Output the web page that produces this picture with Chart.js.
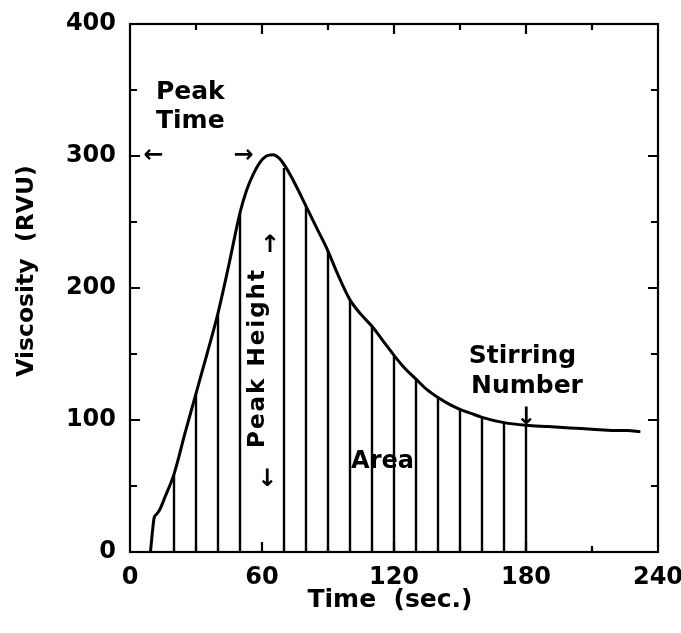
<!DOCTYPE html>
<html><head><meta charset="utf-8">
<script src="https://cdn.jsdelivr.net/npm/chart.js@4.4.1/dist/chart.umd.min.js"></script>
<style>html,body{margin:0;padding:0;background:#fff}</style>
</head><body>
<canvas id="c" width="681" height="633"></canvas>
<script>
// ---- data ----
const curveTime = [9.3, 10.3, 11, 12, 13.5, 16, 20, 25, 30, 35, 40, 45, 50, 53, 56, 59, 62, 65, 68, 71, 75, 80, 85, 90, 94, 100, 105, 110, 115, 120, 125, 130, 135, 140, 145, 150, 155, 160, 170, 180, 190, 200, 210, 220, 226, 232];
const curveVisc = [0, 17, 26, 28.5, 32, 42, 59, 90, 120, 150, 181, 218, 257, 274, 286, 295, 300, 301, 298, 291, 279, 262, 245, 228, 212, 191, 180, 171, 160, 149, 139, 131, 123, 117, 112, 108, 105, 102, 98, 96, 95, 94, 93, 92, 92, 91];
const hatchTime = [20, 30, 40, 50, 70, 80, 90, 100, 110, 120, 130, 140, 150, 160, 170, 180];
const hatchVisc = [59, 120, 181, 257, 291, 262, 228, 191, 171, 149, 131, 117, 108, 102, 98, 96];
const xTickLabels = [0, 60, 120, 180, 240];
const yTickLabels = [0, 100, 200, 300, 400];
const xTitle = 'Time  (sec.)';
const yTitle = 'Viscosity  (RVU)';

const FONT = '"DejaVu Sans", sans-serif';

const curveData = curveTime.map((t, i) => ({x: t, y: curveVisc[i]}));
const hatchData = [];
hatchTime.forEach((t, i) => { hatchData.push({x: t, y: 0}, {x: t, y: hatchVisc[i]}, {x: t, y: null}); });

// annotation texts, placed in data coordinates
const notes = [
  {text: 'Peak', x: 11.8, y: 343, size: 25, align: 'left'},
  {text: 'Time', x: 11.8, y: 321, size: 25, align: 'left'},
  {text: '←', x: 10.7, y: 300, size: 24, align: 'center', base: 'middle'},
  {text: '→', x: 51.6, y: 300, size: 24, align: 'center', base: 'middle'},
  {text: 'Peak Height', x: 61, y: 147, size: 23, align: 'center', rot: true, spacing: 2},
  {text: '↑', x: 63.6, y: 232, size: 24, align: 'center', base: 'middle'},
  {text: '↓', x: 62.3, y: 55, size: 24, align: 'center', base: 'middle'},
  {text: 'Area', x: 100.5, y: 64, size: 24, align: 'left'},
  {text: 'Stirring', x: 154, y: 143, size: 25, align: 'left'},
  {text: 'Number', x: 155, y: 120.6, size: 25, align: 'left'},
  {text: '↓', x: 180, y: 102, size: 24, align: 'center', base: 'middle'}
];

const framePlugin = {
  id: 'frame',
  afterDatasetsDraw(chart) {
    const {ctx, chartArea: a, scales: {x, y}} = chart;
    ctx.save();
    ctx.strokeStyle = '#000';
    ctx.lineWidth = 2.2;
    ctx.strokeRect(a.left, a.top, a.right - a.left, a.bottom - a.top);
    ctx.beginPath();
    x.ticks.forEach(t => {
      const v = t.value;
      if (v <= x.min || v >= x.max) return;
      const px = x.getPixelForValue(v);
      const len = xTickLabels.includes(v) ? 10 : 6;
      ctx.moveTo(px, a.bottom); ctx.lineTo(px, a.bottom - len);
      ctx.moveTo(px, a.top); ctx.lineTo(px, a.top + len);
    });
    y.ticks.forEach(t => {
      const v = t.value;
      if (v <= y.min || v >= y.max) return;
      const py = y.getPixelForValue(v);
      const len = yTickLabels.includes(v) ? 10 : 7;
      ctx.moveTo(a.left, py); ctx.lineTo(a.left + len, py);
      ctx.moveTo(a.right, py); ctx.lineTo(a.right - len, py);
    });
    ctx.stroke();

    ctx.fillStyle = '#000';
    notes.forEach(n => {
      const px = x.getPixelForValue(n.x), py = y.getPixelForValue(n.y);
      ctx.save();
      ctx.font = 'bold ' + n.size + 'px ' + FONT;
      ctx.textAlign = n.align;
      ctx.textBaseline = n.base || 'alphabetic';
      ctx.letterSpacing = (n.spacing || 0) + 'px';
      ctx.translate(px, py);
      if (n.rot) ctx.rotate(-Math.PI / 2);
      ctx.fillText(n.text, 0, 0);
      ctx.restore();
    });

    // axis titles
    ctx.font = 'bold 25px ' + FONT;
    ctx.textAlign = 'center';
    ctx.textBaseline = 'alphabetic';
    ctx.fillText(xTitle, (a.left + a.right) / 2 - 4, 607);
    ctx.save();
    ctx.font = 'bold 23.5px ' + FONT;
    ctx.translate(33, (a.top + a.bottom) / 2 - 17);
    ctx.rotate(-Math.PI / 2);
    ctx.fillText(yTitle, 0, 0);
    ctx.restore();
    ctx.restore();
  }
};

new Chart(document.getElementById('c'), {
  type: 'line',
  data: {
    datasets: [
      {data: hatchData, borderColor: '#000', borderWidth: 2.4, pointRadius: 0, spanGaps: false, tension: 0},
      {data: curveData, borderColor: '#000', borderWidth: 3, pointRadius: 0, cubicInterpolationMode: 'monotone'}
    ]
  },
  options: {
    responsive: false,
    animation: false,
    events: [],
    layout: {padding: {left: 0, right: 23, top: 24, bottom: 0}},
    plugins: {legend: {display: false}, tooltip: {enabled: false}},
    scales: {
      x: {
        type: 'linear', min: 0, max: 240,
        grid: {display: false, drawTicks: false},
        border: {display: false},
        afterFit(s) { s.height = 81; s.paddingLeft = 0; s.paddingRight = 0; },
        ticks: {
          stepSize: 30, autoSkip: false, maxRotation: 0, padding: 11, color: '#000',
          font: {family: FONT, size: 24, weight: 'bold'},
          callback: v => xTickLabels.includes(v) ? String(v) : ''
        }
      },
      y: {
        type: 'linear', min: 0, max: 400,
        grid: {display: false, drawTicks: false},
        border: {display: false},
        afterFit(s) { s.width = 130; s.paddingTop = 0; s.paddingBottom = 0; },
        ticks: {
          stepSize: 50, autoSkip: false, padding: 14, color: '#000',
          font: {family: FONT, size: 24, weight: 'bold'},
          callback: v => yTickLabels.includes(v) ? String(v) : ''
        }
      }
    }
  },
  plugins: [framePlugin]
});
</script>
</body></html>
